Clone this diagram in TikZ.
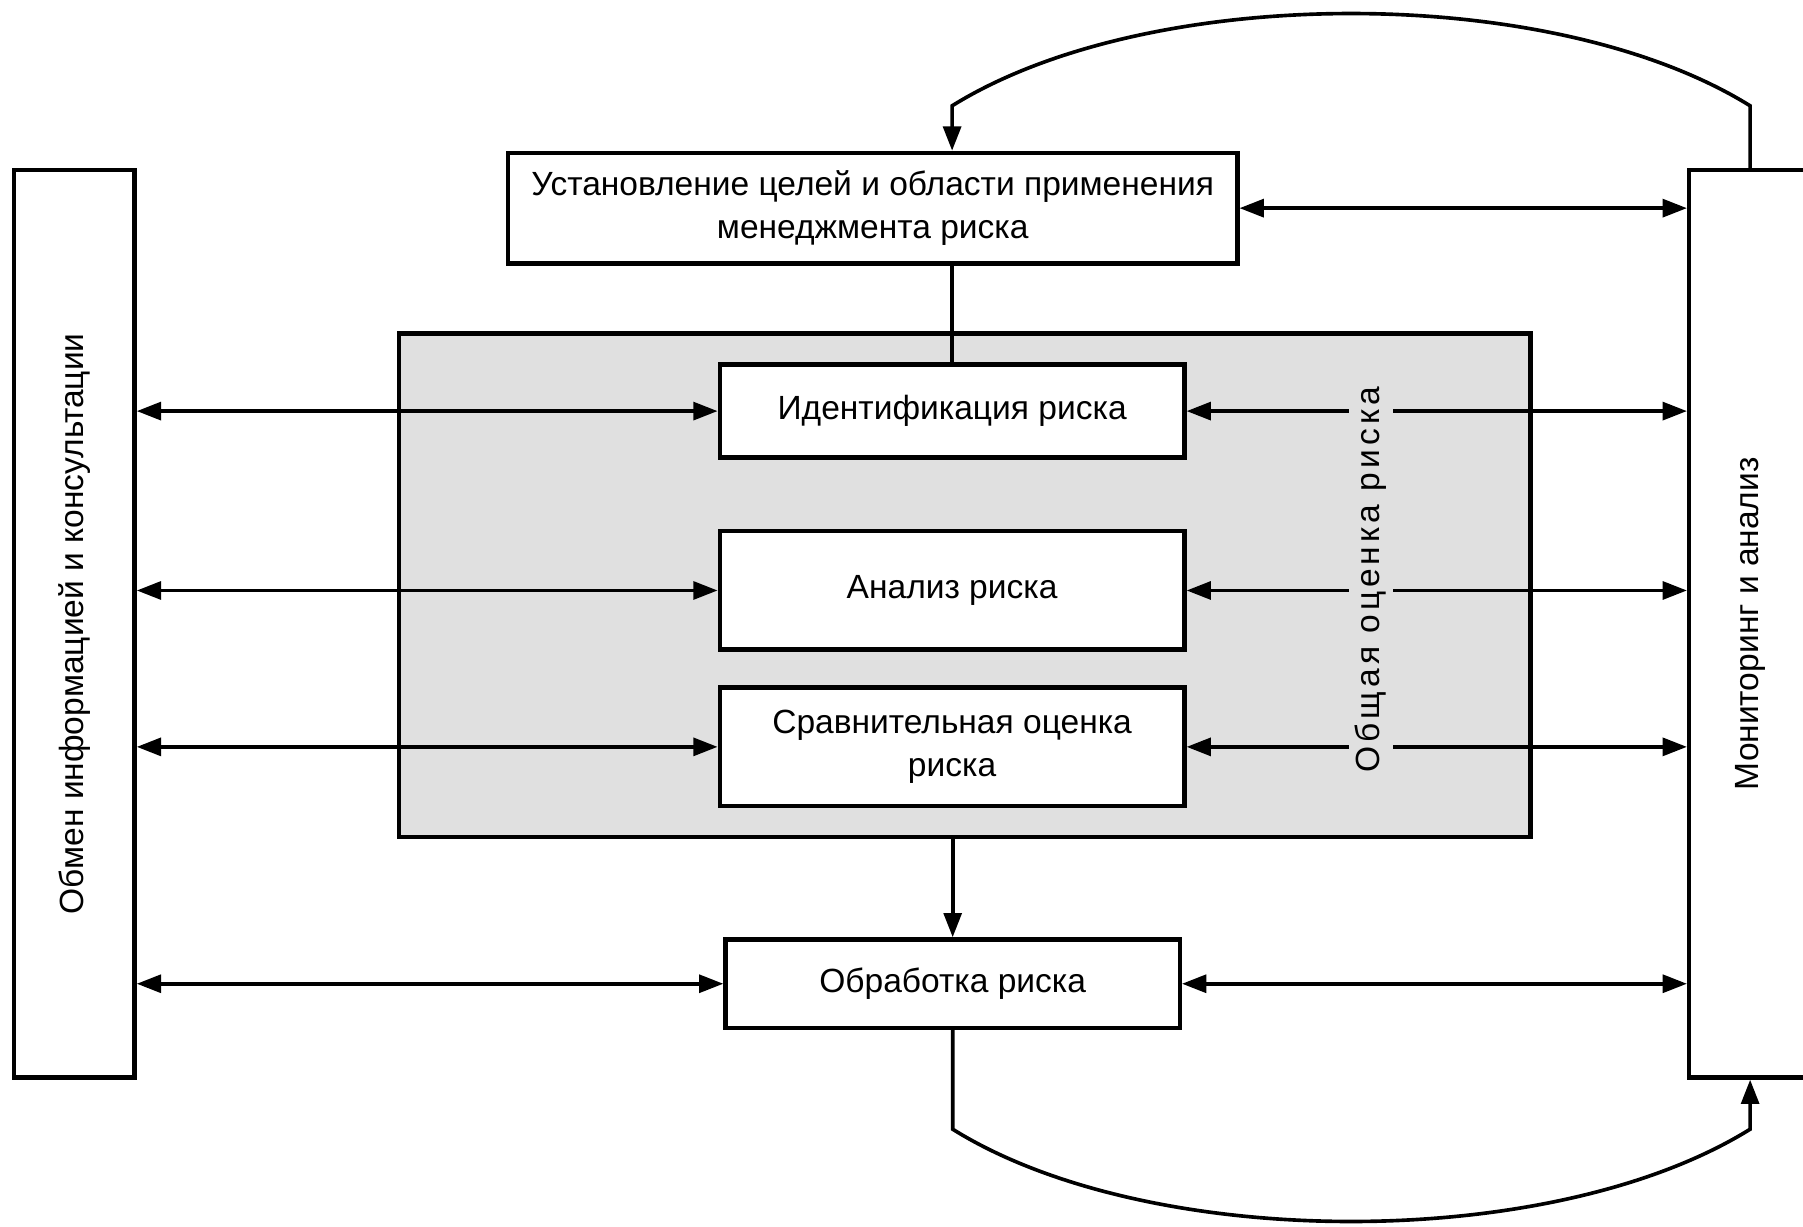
\documentclass[tikz,border=0pt]{standalone}
\usepackage{fontspec}
\setmainfont{Liberation Sans}
\usetikzlibrary{arrows.meta}
\definecolor{assessgray}{gray}{0.88}
\tikzset{
  block/.style={draw, line width=1.1pt, fill=white, align=center, inner sep=2pt},
  conn/.style={line width=0.9pt},
  arr/.style={conn, -{Triangle[length=6pt,width=4.4pt]}},
  biarr/.style={conn, {Triangle[length=6pt,width=4.4pt]}-{Triangle[length=6pt,width=4.4pt]}},
}

\begin{document}
\begin{tikzpicture}[font=\fontsize{8.3}{10.5}\selectfont]
\useasboundingbox (0,0) rectangle (15.68,-10.67);
% side bars
\node[block, rotate=90, minimum width=7.89cm, minimum height=1.05cm] (obmen) at (0.645,-5.425)
    {Обмен информацией и консультации};
\node[block, rotate=90, minimum width=7.89cm, minimum height=1.06cm] (monitor) at (15.22,-5.425)
    {Мониторинг и анализ};
% steps
\node[block, minimum width=6.34cm, minimum height=0.96cm] (goals) at (7.59,-1.81)
    {Установление целей и области применения\\менеджмента риска};
\node[draw, line width=1.1pt, fill=assessgray, minimum width=9.84cm, minimum height=4.38cm] (assess) at (8.39,-5.09) {};
\node[block, minimum width=4.04cm, minimum height=0.81cm] (ident) at (8.28,-3.575) {Идентификация риска};
\node[block, minimum width=4.04cm, minimum height=1.03cm] (analiz) at (8.28,-5.135) {Анализ риска};
\node[block, minimum width=4.04cm, minimum height=1.03cm] (sravn) at (8.28,-6.495) {Сравнительная оценка\\риска};
\node[block, minimum width=3.95cm, minimum height=0.77cm] (obrab) at (8.285,-8.555) {Обработка риска};
% loop points
\coordinate (toprt) at (15.22,-0.92);
\coordinate (toplt) at (8.28,-0.92);
\coordinate (botlt) at (8.285,-9.82);
\coordinate (botrt) at (15.22,-9.82);

\draw[conn] (ident.north) -- (ident.north |- goals.south);
\draw[arr] (obrab.north |- assess.south) -- (obrab.north);
\draw[biarr] (goals.east) -- (monitor.north |- goals.east);
\foreach \b in {ident,analiz,sravn,obrab} {
    \draw[biarr] (obmen.south |- \b.west) -- (\b.west);
    \draw[biarr] (\b.east) -- (monitor.north |- \b.east);
}
\draw[arr] (monitor.east) -- (toprt) .. controls (13.5,0.15) and (10.0,0.15) .. (toplt) -- (toplt |- goals.north);
\draw[arr] (obrab.south) -- (botlt) .. controls (10.0,-10.89) and (13.5,-10.89) .. (botrt) -- (monitor.west);

\node[rotate=90, fill=assessgray, inner sep=1.5pt] (assesslabel) at (11.92,-5.04)
    {\addfontfeature{LetterSpace=12}Общая оценка риска};
\end{tikzpicture}
\end{document}
